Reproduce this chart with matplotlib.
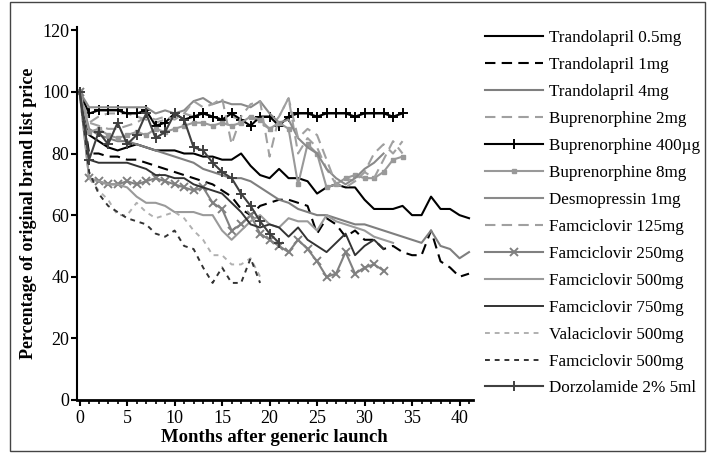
import matplotlib
matplotlib.use("Agg")
import matplotlib.pyplot as plt
from matplotlib.patches import Rectangle

plt.rcParams['font.family'] = ['Liberation Serif', 'DejaVu Serif']

# price as % of original brand list price, by month after generic launch
trandolapril_05 = [100, 86, 84, 82, 81, 82, 83, 82, 81, 81, 81, 80, 80, 79, 79, 78, 78, 80, 76, 73, 72,
                   75, 72, 72, 71, 67, 69, 70, 69, 69, 65, 62, 62, 62, 63, 60, 60, 66, 62, 62, 60, 59]
trandolapril_1 = [100, 80, 80, 79, 79, 78, 78, 77, 76, 75, 74, 73, 72, 71, 70, 68, 66, 62, 60, 63, 64,
                  65, 65, 64, 63, 54, 59, 57, 53, 55, 52, 52, 49, 50, 48, 47, 47, 55, 45, 43, 40, 41]
trandolapril_4 = [100, 88, 86, 85, 84, 84, 83, 82, 81, 80, 79, 78, 77, 75, 74, 73, 72, 72, 71, 69, 67,
                  65, 64, 62, 61, 60, 60, 59, 58, 57, 57, 56, 55, 54, 53, 52, 51, 55, 50, 49, 46, 48]
bupren_2 = [100, 90, 92, 93, 93, 93, 92, 91, 90, 91, 92, 93, 92, 93, 92, 91, 92, 91, 92, 90, 88,
            92, 98, 80, 85, 82, 75, 70, 72, 71, 74, 80, 83, 80, 84]
bupren_400 = [100, 93, 94, 94, 94, 93, 93, 94, 89, 90, 93, 91, 92, 93, 92, 91, 93, 91, 89, 92, 92,
              89, 92, 93, 93, 92, 93, 93, 93, 92, 93, 93, 93, 92, 93]
bupren_8 = [100, 87, 88, 86, 85, 86, 87, 86, 88, 87, 88, 89, 90, 90, 89, 90, 89, 90, 92, 91, 88,
            90, 88, 70, 83, 80, 69, 70, 72, 73, 72, 72, 74, 78, 79]
desmo_1 = [100, 95, 95, 95, 95, 95, 95, 95, 93, 94, 93, 94, 97, 98, 96, 97, 96, 96, 95, 97, 93,
           90, 91, 85, 82, 80, 75, 72, 70, 72, 75, 77, 80]
famc_125 = [100, 90, 89, 88, 88, 89, 90, 92, 91, 92, 91, 93, 97, 95, 96, 98, 83, 92, 96, 97, 79,
            92, 98, 85, 88, 86, 78, 70, 69, 71, 74, 72, 78, 84, 80]
famc_250 = [100, 72, 71, 70, 70, 71, 70, 71, 72, 71, 70, 69, 68, 69, 64, 62, 55, 57, 60, 54, 52,
            50, 48, 52, 49, 45, 40, 41, 48, 41, 43, 44, 42]
famc_500 = [100, 72, 71, 70, 70, 69, 66, 64, 64, 63, 61, 61, 61, 60, 60, 55, 52, 55, 58, 60, 57,
            56, 59, 58, 58, 55, 60, 58, 57, 56, 55, 53, 52, 51]
famc_750 = [100, 78, 77, 77, 77, 77, 76, 75, 73, 73, 72, 72, 70, 69, 68, 67, 64, 61, 57, 56, 57,
            56, 53, 56, 52, 50, 48, 51, 54, 47, 50, 52, 49]
valac_500 = [100, 72, 68, 65, 60, 60, 64, 61, 59, 60, 61, 59, 55, 52, 47, 47, 44, 44, 46, 40]
famc_500b = [100, 74, 67, 63, 61, 59, 58, 57, 54, 53, 55, 50, 49, 43, 38, 43, 38, 38, 46, 38]
dorzol = [100, 78, 87, 83, 90, 83, 86, 93, 85, 87, 93, 91, 82, 81, 77, 74, 72, 67, 63, 58, 54, 51]

labels = ['Trandolapril 0.5mg', 'Trandolapril 1mg', 'Trandolapril 4mg', 'Buprenorphine 2mg',
          'Buprenorphine 400\u00b5g', 'Buprenorphine 8mg', 'Desmopressin 1mg', 'Famciclovir 125mg',
          'Famciclovir 250mg', 'Famciclovir 500mg', 'Famciclovir 750mg', 'Valaciclovir 500mg',
          'Famciclovir 500mg', 'Dorzolamide 2% 5ml']
series = [trandolapril_05, trandolapril_1, trandolapril_4, bupren_2, bupren_400, bupren_8, desmo_1,
          famc_125, famc_250, famc_500, famc_750, valac_500, famc_500b, dorzol]

styles = [
    dict(color='#000000', lw=1.5),
    dict(color='#000000', lw=1.5, dashes=(5, 3)),
    dict(color='#7f7f7f', lw=1.5),
    dict(color='#a0a0a0', lw=1.5, dashes=(5, 3)),
    dict(color='#000000', lw=1.5, marker='+', ms=7, mew=1.4),
    dict(color='#999999', lw=1.5, marker='s', ms=2.5),
    dict(color='#8a8a8a', lw=1.5),
    dict(color='#a0a0a0', lw=1.5, dashes=(5, 3)),
    dict(color='#808080', lw=1.5, marker='x', ms=6, mew=1.4),
    dict(color='#9a9a9a', lw=1.5),
    dict(color='#333333', lw=1.4),
    dict(color='#b0b0b0', lw=1.4, dashes=(2.5, 2.5)),
    dict(color='#333333', lw=1.4, dashes=(2.5, 2.5)),
    dict(color='#404040', lw=1.5, marker='+', ms=7, mew=1.4),
]

fig = plt.figure(figsize=(7.11, 4.53), dpi=100)
ax = fig.add_axes([0.108, 0.117, 0.557, 0.823])

for vals, lab, st in zip(series, labels, styles):
    ax.plot(range(len(vals)), vals, label=lab, **st)

ax.set_xlim(-0.3, 41.4)
ax.set_ylim(0, 121)
ax.set_xticks(range(0, 41, 5))
ax.set_xticks(range(0, 42), minor=True)
ax.set_yticks(range(0, 121, 20))
ax.spines['top'].set_visible(False)
ax.spines['right'].set_visible(False)
ax.spines['left'].set_linewidth(1.5)
ax.spines['bottom'].set_linewidth(2)
ax.tick_params(axis='both', labelsize=13, width=1.5, length=4)
ax.tick_params(axis='y', pad=1.5)
ax.tick_params(axis='x', which='minor', length=3, width=1.2)
ax.set_xlabel('Months after generic launch', fontsize=13.5, fontweight='bold', labelpad=1)
ax.set_ylabel('Percentage of original brand list price', fontsize=13, fontweight='bold', labelpad=4)

fig.legend(loc='upper left', bbox_to_anchor=(0.661, 0.967), frameon=False, fontsize=12.3,
           handlelength=3.4, handletextpad=0.3, labelspacing=0.64, numpoints=1)

fig.patches.append(Rectangle((0.014, 0.004), 0.978, 0.992, transform=fig.transFigure,
                             fill=False, edgecolor='#444444', lw=1))

fig.savefig('out.png', dpi=100)
